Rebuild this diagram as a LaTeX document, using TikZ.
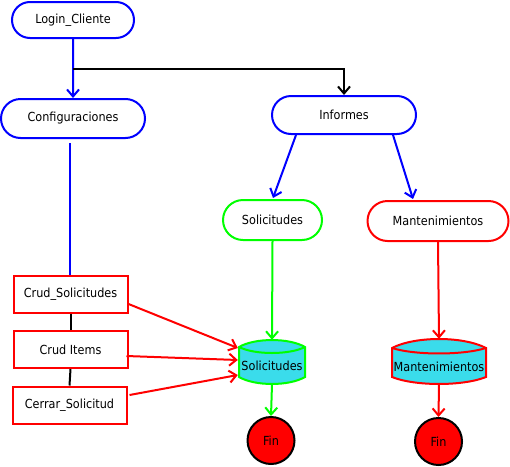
\documentclass[tikz,border=0pt]{standalone}
\usepackage{fontspec}
\setmainfont{DejaVu Sans}[FakeStretch=0.9]
\usetikzlibrary{arrows.meta,shapes.misc,shapes.geometric,calc}
\definecolor{pblue}{RGB}{0,0,255}
\definecolor{pgreen}{RGB}{0,255,0}
\definecolor{pred}{RGB}{255,0,0}
\definecolor{cylfill}{RGB}{58,220,235}
\begin{document}
\begin{tikzpicture}[x=1pt,y=-1pt,
  font=\fontsize{12.5}{14}\selectfont,
  stad/.style={rounded rectangle, draw, line width=2pt, fill=white, inner sep=0pt},
  boxn/.style={rectangle, draw=pred, line width=2pt, fill=white, inner sep=0pt, minimum width=114pt, minimum height=37pt},
  cyl/.style={rectangle, inner sep=0pt},
  finn/.style={circle, draw=black, line width=2pt, fill=pred, minimum size=47pt, inner sep=0pt, font=\fontsize{12.5}{14}\selectfont},
  conn/.style={line width=2pt},
  arr/.style={conn, -{Straight Barb[length=7pt,width=12pt,line width=2pt]}}]
\useasboundingbox (0,0) rectangle (510,466);

% cylinders shapes
\draw[draw=pgreen, fill=cylfill, line width=2pt]
  (239,347) .. controls (255,337.7) and (289,337.7) .. (305,347)
  -- (305,377) .. controls (289,386.3) and (255,386.3) .. (239,377) -- cycle;
\draw[draw=pgreen, line width=2pt]
  (239,347) .. controls (255,355) and (289,355) .. (305,347);
\draw[draw=pred, fill=cylfill, line width=2pt]
  (392,348) .. controls (415,336) and (463,336) .. (486,348)
  -- (486,377) .. controls (463,386.3) and (415,386.3) .. (392,377) -- cycle;
\draw[draw=pred, line width=2pt]
  (392,348) .. controls (415,355.3) and (463,355.3) .. (486,348);

% nodes
\node[stad, draw=pblue, minimum width=122pt, minimum height=36pt] (login) at (73,20) {Login\_Cliente};
\node[stad, draw=pblue, minimum width=144pt, minimum height=39pt] (conf) at (73,118.5) {Configuraciones};
\node[stad, draw=pblue, minimum width=144pt, minimum height=38pt] (inf) at (344,115) {Informes};
\node[stad, draw=pgreen, minimum width=99pt, minimum height=40pt] (solr) at (272.5,220) {Solicitudes};
\node[stad, draw=pred, minimum width=141pt, minimum height=40pt] (mant) at (438,221) {Mantenimientos};
\node[boxn] (cs) at (70.5,294) {Crud\_Solicitudes};
\node[boxn] (ci) at (70.5,349.5) {Crud Items};
\node[boxn] (cc) at (69.5,405) {Cerrar\_Solicitud};
\node[cyl, minimum width=66pt, minimum height=44pt] (sol) at (272,362) {};
\node at (272,365.5) {Solicitudes};
\node[cyl, minimum width=95pt, minimum height=45pt] (mcyl) at (439,361.5) {};
\node at (439,367) {Mantenimientos};
\node[finn] (fin1) at (271,440.5) {Fin};
\node[finn] (fin2) at (438.5,441.5) {Fin};

% connectors
\draw[arr, pblue] (login) -- (conf);
\coordinate (split) at ($(login.south)+(0,30)$);
\draw[arr, black] (split) -| (inf.north);
\draw[conn, pblue, shorten <=4pt] ($(cs.north |- conf.south)+(-0.5,0)$) -- ($(cs.north)+(-0.5,0)$);
\draw[conn, black] (cs.south) -- (ci.north);
\draw[conn, black] (ci.south) -- (cc.north);
\draw[arr, pred] ($(cs.east)+(0,10)$) -- ($(sol.west)+(-1,-14)$);
\draw[arr, pred] ($(ci.east)+(-2,6.5)$) -- ($(sol.west)+(-1,-2)$);
\draw[arr, pred] ($(cc.east)+(2,-10)$) -- ($(sol.west)+(-1,13)$);
\draw[arr, pblue] ($(inf.south)+(-48,0)$) -- ($(solr.north)+(0.5,-1)$);
\draw[arr, pblue] ($(inf.south)+(49,0)$) -- ($(mant.north)+(-25,-1)$);
\draw[arr, pgreen] (solr.south) -- (sol.north);
\draw[arr, pgreen] (sol.south) -- (fin1.north);
\draw[arr, pred] (mant.south) -- (mcyl.north);
\draw[arr, pred] (mcyl.south) -- (fin2.north);
\end{tikzpicture}
\end{document}
